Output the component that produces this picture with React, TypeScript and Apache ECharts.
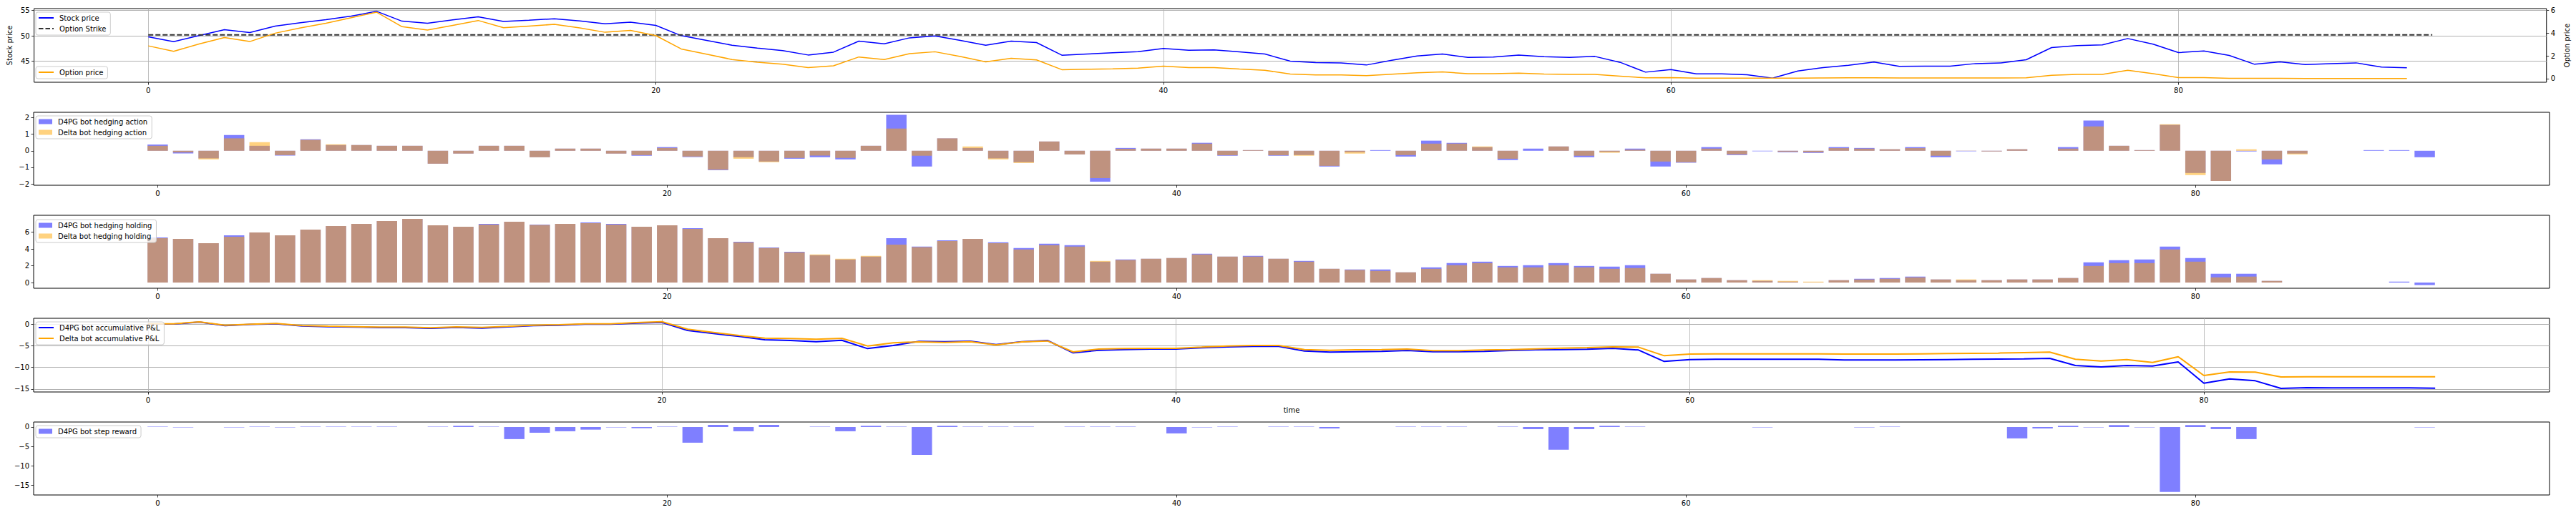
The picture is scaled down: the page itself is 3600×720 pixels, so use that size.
import React, { useEffect, useRef } from 'react';
import * as echarts from 'echarts';

// ---------- tick labels ----------
const TIME_TICKS = [0, 20, 40, 60, 80];
const STOCK_TICKS = [45, 50, 55];
const OPTION_TICKS = [0, 2, 4, 6];
const ACTION_TICKS = [-2, -1, 0, 1, 2];
const HOLDING_TICKS = [0, 2, 4, 6];
const PNL_TICKS = [-15, -10, -5, 0];
const REWARD_TICKS = [-15, -10, -5, 0];

// ---------- data ----------
const STRIKE = 50.2;
const strikeTimes = [0, 90];

const stockPrice = [
  49.81, 48.87, 50.05, 51.22, 50.66, 51.92, 52.6, 53.2, 53.9, 54.84,
  52.9, 52.5, 53.15, 53.76, 52.86, 53.1, 53.38, 52.96, 52.39, 52.72,
  52.07, 50.05, 49.11, 48.17, 47.6, 47.09, 46.24, 46.8, 48.97, 48.45,
  49.62, 50.0, 49.11, 48.17, 48.97, 48.69, 46.2, 46.43, 46.67, 46.9,
  47.51, 47.18, 47.23, 46.85, 46.43, 45.02, 44.74, 44.69, 44.27, 45.21,
  46.06, 46.43, 45.77, 45.82, 46.24, 45.92, 45.77, 45.96, 44.79, 42.86,
  43.38, 42.54, 42.54, 42.35, 41.69, 43.1, 43.76, 44.23, 44.84, 43.99,
  44.04, 44.04, 44.55, 44.69, 45.31, 47.7, 48.08, 48.22, 49.48, 48.36,
  46.71, 47.04, 46.15, 44.41, 44.88, 44.37, 44.55, 44.69, 43.85, 43.71,
];

const optionPrice = [
  2.88, 2.4, 3.05, 3.62, 3.26, 4.0, 4.46, 4.88, 5.37, 5.85,
  4.57, 4.27, 4.69, 5.12, 4.48, 4.63, 4.78, 4.46, 4.08, 4.25,
  3.79, 2.61, 2.15, 1.68, 1.43, 1.26, 0.97, 1.12, 1.9, 1.68,
  2.19, 2.36, 1.94, 1.47, 1.79, 1.64, 0.78, 0.82, 0.86, 0.91,
  1.09, 0.97, 0.97, 0.84, 0.72, 0.4, 0.32, 0.32, 0.25, 0.38,
  0.51, 0.59, 0.42, 0.42, 0.48, 0.4, 0.36, 0.36, 0.21, 0.06,
  0.08, 0.04, 0.04, 0.04, 0.03, 0.04, 0.05, 0.06, 0.07, 0.05,
  0.05, 0.05, 0.05, 0.05, 0.06, 0.29, 0.36, 0.36, 0.72, 0.42,
  0.08, 0.08, 0.02, 0.01, 0.01, 0.0, 0.0, 0.0, 0.0, 0.0,
];

const actionD4PG = [
  0.375, -0.16, -0.46, 0.95, 0.3, -0.29, 0.69, 0.35, 0.35, 0.3,
  0.3, -0.78, -0.17, 0.3, 0.3, -0.39, 0.13, 0.13, -0.17, -0.3,
  0.22, -0.38, -1.17, -0.39, -0.65, -0.48, -0.39, -0.52, 0.3, 2.17,
  -0.95, 0.75, 0.17, -0.46, -0.69, 0.56, -0.22, -1.86, 0.17, 0.13,
  0.13, 0.48, -0.3, 0.04, -0.3, -0.26, -0.95, -0.09, 0.04, -0.35,
  0.61, 0.48, 0.22, -0.56, 0.13, 0.26, -0.39, -0.07, 0.13, -0.95,
  -0.72, 0.22, -0.26, -0.03, -0.09, -0.13, 0.22, 0.17, 0.09, 0.22,
  -0.39, -0.03, -0.04, 0.09, 0, 0.22, 1.82, 0.3, 0.04, 1.56,
  -1.34, -1.82, -0.04, -0.82, -0.17, 0, 0, 0.04, 0.04, -0.39,
];

const actionDelta = [
  0.3, -0.1, -0.52, 0.75, 0.52, -0.26, 0.66, 0.39, 0.35, 0.3,
  0.3, -0.78, -0.17, 0.3, 0.3, -0.39, 0.13, 0.13, -0.17, -0.26,
  0.17, -0.35, -1.14, -0.48, -0.69, -0.43, -0.29, -0.43, 0.3, 1.34,
  -0.3, 0.75, 0.26, -0.52, -0.74, 0.56, -0.22, -1.65, 0.12, 0.13,
  0.13, 0.43, -0.27, 0.04, -0.27, -0.3, -0.91, -0.17, 0, -0.26,
  0.43, 0.43, 0.26, -0.48, 0, 0.26, -0.3, -0.12, 0.07, -0.65,
  -0.69, 0.13, -0.22, 0, -0.06, -0.09, 0.16, 0.13, 0.09, 0.16,
  -0.3, -0.01, -0.04, 0.09, 0, 0.13, 1.47, 0.3, 0.04, 1.6,
  -1.47, -1.82, 0.09, -0.52, -0.22, 0, 0, 0, 0, 0,
];

const holdingD4PG = [
  5.38, 5.21, 4.7, 5.64, 5.98, 5.64, 6.32, 6.74, 7.0, 7.34,
  7.59, 6.83, 6.66, 7.0, 7.25, 6.91, 7.0, 7.17, 7.0, 6.66,
  6.83, 6.49, 5.3, 4.87, 4.19, 3.68, 3.26, 2.75, 3.09, 5.3,
  4.28, 5.04, 5.21, 4.79, 4.11, 4.62, 4.45, 2.49, 2.75, 2.83,
  2.92, 3.43, 3.09, 3.17, 2.83, 2.58, 1.64, 1.56, 1.56, 1.22,
  1.81, 2.32, 2.49, 1.98, 2.07, 2.32, 1.98, 1.9, 2.07, 1.05,
  0.37, 0.54, 0.28, 0.2, 0.11, 0.02, 0.28, 0.45, 0.54, 0.71,
  0.37, 0.28, 0.28, 0.37, 0.37, 0.54, 2.41, 2.66, 2.75, 4.28,
  2.92, 1.05, 1.05, 0.2, 0, 0, 0, 0, 0.11, -0.3,
];

const holdingDelta = [
  5.3, 5.21, 4.7, 5.47, 5.98, 5.64, 6.32, 6.74, 7.0, 7.34,
  7.59, 6.83, 6.66, 6.91, 7.25, 6.86, 7.0, 7.08, 6.91, 6.66,
  6.83, 6.4, 5.3, 4.79, 4.11, 3.6, 3.34, 2.83, 3.17, 4.53,
  4.22, 4.96, 5.21, 4.7, 3.94, 4.45, 4.28, 2.58, 2.69, 2.83,
  2.92, 3.34, 3.09, 3.09, 2.83, 2.49, 1.64, 1.5, 1.39, 1.22,
  1.64, 2.07, 2.32, 1.81, 1.81, 2.07, 1.81, 1.64, 1.73, 1.05,
  0.37, 0.54, 0.28, 0.28, 0.2, 0.11, 0.28, 0.37, 0.45, 0.62,
  0.37, 0.37, 0.28, 0.37, 0.37, 0.54, 1.98, 2.32, 2.32, 3.94,
  2.49, 0.62, 0.71, 0.2, 0, 0, 0, 0, 0, 0,
];

const pnlD4PG = [
  0, 0, 0.44, -0.38, -0.1, 0.05, -0.44, -0.6, -0.71, -0.82,
  -0.82, -0.99, -0.77, -0.93, -0.66, -0.38, -0.27, -0.05, -0.05, 0.22,
  0.38, -1.48, -2.2, -2.86, -3.63, -3.8, -4.07, -3.74, -5.66, -4.95,
  -4.0, -4.07, -3.96, -4.73, -4.07, -3.79, -6.65, -6.04, -5.88, -5.77,
  -5.77, -5.49, -5.27, -5.16, -5.16, -6.21, -6.48, -6.37, -6.32, -6.1,
  -6.37, -6.37, -6.32, -6.1, -5.93, -5.88, -5.82, -5.6, -5.99, -8.63,
  -8.19, -8.13, -8.13, -8.13, -8.13, -8.13, -8.3, -8.3, -8.3, -8.24,
  -8.19, -8.13, -8.08, -8.02, -7.91, -9.56, -9.89, -9.56, -9.67, -8.74,
  -13.63, -12.64, -13.08, -14.84, -14.67, -14.73, -14.7, -14.7, -14.73, -14.78,
];

const pnlDelta = [
  0.05, 0.05, 0.5, -0.3, -0.02, 0.12, -0.35, -0.5, -0.6, -0.7,
  -0.7, -0.85, -0.65, -0.8, -0.55, -0.28, -0.15, 0.05, 0.05, 0.35,
  0.55, -1.2, -1.92, -2.64, -3.24, -3.35, -3.52, -3.3, -5.05, -4.34,
  -4.1, -4.23, -4.07, -4.84, -4.12, -3.9, -6.43, -5.77, -5.66, -5.6,
  -5.6, -5.33, -5.05, -4.95, -4.95, -5.88, -6.04, -5.93, -5.88, -5.77,
  -6.15, -6.15, -5.99, -5.88, -5.71, -5.55, -5.44, -5.27, -5.33, -7.31,
  -6.92, -6.87, -6.87, -6.87, -6.87, -6.87, -6.92, -6.92, -6.92, -6.87,
  -6.81, -6.76, -6.7, -6.59, -6.48, -8.13, -8.52, -8.19, -8.85, -7.53,
  -11.87, -11.04, -11.1, -12.2, -12.14, -12.14, -12.14, -12.14, -12.14, -12.14,
];

const stepReward = [
  0.1, -0.1, 0, -0.1, 0.1, -0.1, 0.1, 0.1, 0.1, 0.1,
  0, 0.1, 0.3, 0.1, -3.13, -1.48, -1.1, -0.68, -0.1, -0.3,
  0.1, -4.06, 0.55, -1.1, 0.55, 0, 0.1, -1.1, 0.3, 0.1,
  -7.2, 0.3, 0.1, 0.1, 0.1, 0, 0.1, 0.1, 0.1, 0,
  -1.66, -0.1, 0.1, 0, 0.1, 0.1, -0.37, 0, 0, 0.1,
  0.1, 0.1, 0, 0.1, -0.55, -5.9, -0.55, 0.3, 0.1, 0,
  0, 0, 0, -0.1, 0, 0, 0, -0.1, 0.1, 0,
  0, 0, 0, -2.95, -0.37, 0.3, -0.1, 0.5, -0.1, -16.78,
  0.5, -0.55, -3.13, 0, 0, 0, 0, 0, 0, -0.1,
];

// ---------- styling ----------
const FONT = 'DejaVu Sans';
const BLUE = '#0000ff';
const ORANGE = '#ffa500';
const BLUE_BAR = 'rgba(0,0,255,0.5)';
const ORANGE_BAR = 'rgba(255,165,0,0.5)';
const GRID_COLOR = '#b0b0b0';
const minus = (v: number) => String(v).replace('-', '\u2212');

const LINE_ICON = 'path://M0,0h21v2h-21z';
const DASH_ICON = 'path://M0,0h6.5v2h-6.5z M9.5,0h6.5v2h-6.5z M19,0h2v2h-2z';

const GRIDS = [
  { left: 46, top: 12, width: 3517, height: 103 },
  { left: 47, top: 157, width: 3516, height: 102 },
  { left: 47, top: 301, width: 3516, height: 102 },
  { left: 47, top: 445, width: 3516, height: 103 },
  { left: 47, top: 590, width: 3516, height: 102 },
];
const X_RANGES = [
  [-4.5, 94.5],
  [-4.87, 93.9],
  [-4.87, 93.9],
  [-4.45, 93.45],
  [-4.87, 93.9],
];

function pairs(arr: number[]) {
  return arr.map((v, i) => [i, v]);
}

function xAxis(gi: number, grid: boolean, name?: string) {
  return {
    type: 'value',
    gridIndex: gi,
    min: X_RANGES[gi][0],
    max: X_RANGES[gi][1],
    axisLine: { show: false, onZero: false },
    axisTick: { show: true, length: 3.5, customValues: TIME_TICKS, lineStyle: { color: '#000', width: 0.8 } },
    axisLabel: { customValues: TIME_TICKS, margin: 6, fontSize: 10, fontFamily: FONT, color: '#000', formatter: minus },
    splitLine: { show: grid, lineStyle: { color: GRID_COLOR, width: 0.8 } },
    name: name || '',
    nameLocation: 'middle',
    nameGap: 20,
    nameTextStyle: { fontSize: 10, fontFamily: FONT, color: '#000' },
  };
}

function yAxis(gi: number, min: number, max: number, ticks: number[], grid: boolean, position = 'left', name?: string) {
  return {
    type: 'value',
    gridIndex: gi,
    position,
    min,
    max,
    axisLine: { show: false, onZero: false },
    axisTick: { show: true, length: 3.5, customValues: ticks, lineStyle: { color: '#000', width: 0.8 } },
    axisLabel: { customValues: ticks, margin: 6, fontSize: 10, fontFamily: FONT, color: '#000', formatter: minus },
    splitLine: { show: grid, lineStyle: { color: GRID_COLOR, width: 1 } },
    name: name || '',
    nameLocation: 'middle',
    nameRotate: 90,
    nameGap: position === 'left' ? 27 : 18,
    nameTextStyle: { fontSize: 10, fontFamily: FONT, color: '#000' },
  };
}

function legend(items: any[], top: number, isBar: boolean) {
  const l: any = {
    data: items,
    left: 50,
    top,
    orient: 'vertical',
    itemGap: 3,
    itemWidth: isBar ? 19 : 21,
    itemHeight: isBar ? 7 : 2,
    padding: [2, 6, 3, 4],
    backgroundColor: 'rgba(255,255,255,0.8)',
    borderColor: '#cccccc',
    borderWidth: 1,
    borderRadius: 3,
    selectedMode: false,
    textStyle: { fontSize: 10, fontFamily: FONT, color: '#000', lineHeight: 12, padding: [0, 0, 0, 3] },
  };
  l.icon = isBar ? 'rect' : LINE_ICON;
  return l;
}

function barWidthFor(gi: number) {
  return (0.8 * GRIDS[gi].width) / (X_RANGES[gi][1] - X_RANGES[gi][0]);
}

export default function App() {
  const ref = useRef<HTMLDivElement>(null);
  useEffect(() => {
    if (!ref.current) return;
    const chart = echarts.init(ref.current, null, { renderer: 'svg' });
    const lineBase = { type: 'line', symbol: 'none', showSymbol: false };
    const option = {
      animation: false,
      backgroundColor: '#ffffff',
      grid: GRIDS.map((g) => ({ ...g, show: true, borderColor: '#000', borderWidth: 1, containLabel: false })),
      xAxis: [
        xAxis(0, true),
        xAxis(1, false),
        xAxis(2, false),
        xAxis(3, true, 'time'),
        xAxis(4, false),
      ],
      yAxis: [
        yAxis(0, 40.87, 55.38, STOCK_TICKS, true, 'left', 'Stock price'),
        yAxis(0, -0.33, 6.17, OPTION_TICKS, false, 'right', 'Option price'),
        yAxis(1, -2.08, 2.32, ACTION_TICKS, false),
        yAxis(2, -0.68, 8.02, HOLDING_TICKS, false),
        yAxis(3, -15.66, 1.32, PNL_TICKS, true),
        yAxis(4, -17.58, 1.29, REWARD_TICKS, false),
      ],
      legend: [
        legend([{ name: 'Stock price' }, { name: 'Option Strike', icon: DASH_ICON }], 17, false),
        legend(['Option price'], 93, false),
        legend(['D4PG bot hedging action', 'Delta bot hedging action'], 162, true),
        legend(['D4PG bot hedging holding', 'Delta bot hedging holding'], 307, true),
        legend(['D4PG bot accumulative P&L', 'Delta bot accumulative P&L'], 450, false),
        legend(['D4PG bot step reward'], 595, true),
      ],
      series: [
        { ...lineBase, name: 'Stock price', xAxisIndex: 0, yAxisIndex: 0, data: pairs(stockPrice),
          lineStyle: { color: BLUE, width: 1.5 }, itemStyle: { color: BLUE } },
        { ...lineBase, name: 'Option Strike', xAxisIndex: 0, yAxisIndex: 0,
          data: strikeTimes.map((t) => [t, STRIKE]),
          lineStyle: { color: '#333333', width: 2, type: [7, 3] }, itemStyle: { color: '#333333' } },
        { ...lineBase, name: 'Option price', xAxisIndex: 0, yAxisIndex: 1, data: pairs(optionPrice),
          lineStyle: { color: ORANGE, width: 1.5 }, itemStyle: { color: ORANGE } },
        { type: 'bar', name: 'D4PG bot hedging action', xAxisIndex: 1, yAxisIndex: 2, data: pairs(actionD4PG),
          barWidth: barWidthFor(1), barGap: '-100%', itemStyle: { color: BLUE_BAR } },
        { type: 'bar', name: 'Delta bot hedging action', xAxisIndex: 1, yAxisIndex: 2, data: pairs(actionDelta),
          barWidth: barWidthFor(1), barGap: '-100%', itemStyle: { color: ORANGE_BAR } },
        { type: 'bar', name: 'D4PG bot hedging holding', xAxisIndex: 2, yAxisIndex: 3, data: pairs(holdingD4PG),
          barWidth: barWidthFor(2), barGap: '-100%', itemStyle: { color: BLUE_BAR } },
        { type: 'bar', name: 'Delta bot hedging holding', xAxisIndex: 2, yAxisIndex: 3, data: pairs(holdingDelta),
          barWidth: barWidthFor(2), barGap: '-100%', itemStyle: { color: ORANGE_BAR } },
        { ...lineBase, name: 'D4PG bot accumulative P&L', xAxisIndex: 3, yAxisIndex: 4, data: pairs(pnlD4PG),
          lineStyle: { color: BLUE, width: 2 }, itemStyle: { color: BLUE } },
        { ...lineBase, name: 'Delta bot accumulative P&L', xAxisIndex: 3, yAxisIndex: 4, data: pairs(pnlDelta),
          lineStyle: { color: ORANGE, width: 2 }, itemStyle: { color: ORANGE } },
        { type: 'bar', name: 'D4PG bot step reward', xAxisIndex: 4, yAxisIndex: 5, data: pairs(stepReward),
          barWidth: barWidthFor(4), itemStyle: { color: BLUE_BAR } },
      ],
    };
    chart.setOption(option as any);
    return () => chart.dispose();
  }, []);
  return <div ref={ref} style={{ position: 'absolute', left: 0, top: 0, width: 3600, height: 720 }} />;
}
